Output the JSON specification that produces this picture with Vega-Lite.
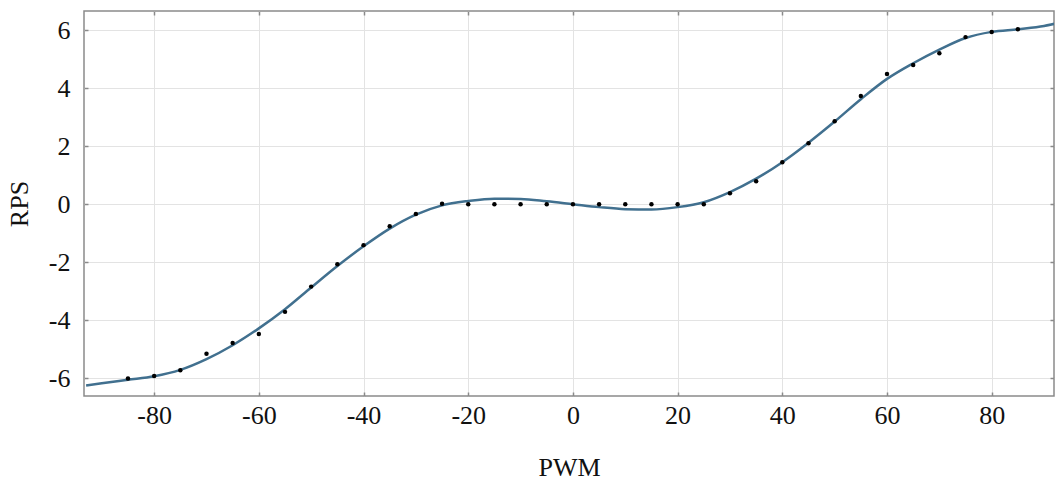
{
  "$schema": "https://vega.github.io/schema/vega-lite/v6.json",
  "width": 970,
  "height": 385,
  "autosize": {"type": "none"},
  "padding": {"left": 84, "top": 11, "right": 1, "bottom": 86},
  "background": "white",
  "config": {
    "view": {"stroke": "#8a8a8a", "strokeWidth": 1.5},
    "font": "Liberation Serif",
    "axis": {
      "labelFont": "Liberation Serif",
      "titleFont": "Liberation Serif",
      "labelFontSize": 26,
      "titleFontSize": 26,
      "titleFontWeight": "normal",
      "labelColor": "#111",
      "titleColor": "#111",
      "gridColor": "#e3e3e3",
      "gridWidth": 1,
      "domain": false,
      "tickColor": "#8a8a8a",
      "tickWidth": 1.5
    }
  },
  "datasets": {
    "fit": [
      {"pwm": -93, "rps": -6.25},
      {"pwm": -90, "rps": -6.17},
      {"pwm": -85, "rps": -6.05},
      {"pwm": -80, "rps": -5.93},
      {"pwm": -75, "rps": -5.71},
      {"pwm": -70, "rps": -5.34},
      {"pwm": -65, "rps": -4.86},
      {"pwm": -60, "rps": -4.28},
      {"pwm": -55, "rps": -3.62},
      {"pwm": -50, "rps": -2.87},
      {"pwm": -45, "rps": -2.13},
      {"pwm": -40, "rps": -1.45},
      {"pwm": -35, "rps": -0.84},
      {"pwm": -30, "rps": -0.36},
      {"pwm": -25, "rps": -0.04},
      {"pwm": -20, "rps": 0.11},
      {"pwm": -15, "rps": 0.19},
      {"pwm": -10, "rps": 0.18},
      {"pwm": -5, "rps": 0.1},
      {"pwm": 0, "rps": 0.0},
      {"pwm": 5, "rps": -0.1},
      {"pwm": 10, "rps": -0.17},
      {"pwm": 15, "rps": -0.18},
      {"pwm": 20, "rps": -0.1},
      {"pwm": 25, "rps": 0.07},
      {"pwm": 30, "rps": 0.42},
      {"pwm": 35, "rps": 0.88},
      {"pwm": 40, "rps": 1.45},
      {"pwm": 45, "rps": 2.12},
      {"pwm": 50, "rps": 2.85},
      {"pwm": 55, "rps": 3.62},
      {"pwm": 60, "rps": 4.32},
      {"pwm": 65, "rps": 4.86},
      {"pwm": 70, "rps": 5.33},
      {"pwm": 75, "rps": 5.73},
      {"pwm": 80, "rps": 5.94},
      {"pwm": 85, "rps": 6.03},
      {"pwm": 90, "rps": 6.14},
      {"pwm": 92, "rps": 6.22}
    ],
    "meas": [
      {"pwm": -85, "rps": -6.01},
      {"pwm": -80, "rps": -5.92},
      {"pwm": -75, "rps": -5.72},
      {"pwm": -70, "rps": -5.15},
      {"pwm": -65, "rps": -4.78},
      {"pwm": -60, "rps": -4.47},
      {"pwm": -55, "rps": -3.71},
      {"pwm": -50, "rps": -2.84},
      {"pwm": -45, "rps": -2.07},
      {"pwm": -40, "rps": -1.41},
      {"pwm": -35, "rps": -0.76},
      {"pwm": -30, "rps": -0.34},
      {"pwm": -25, "rps": 0.02},
      {"pwm": -20, "rps": 0.0},
      {"pwm": -15, "rps": 0.0},
      {"pwm": -10, "rps": 0.0},
      {"pwm": -5, "rps": 0.0},
      {"pwm": 0, "rps": 0.0},
      {"pwm": 5, "rps": 0.0},
      {"pwm": 10, "rps": 0.0},
      {"pwm": 15, "rps": 0.0},
      {"pwm": 20, "rps": 0.0},
      {"pwm": 25, "rps": 0.0},
      {"pwm": 30, "rps": 0.38},
      {"pwm": 35, "rps": 0.79},
      {"pwm": 40, "rps": 1.45},
      {"pwm": 45, "rps": 2.1},
      {"pwm": 50, "rps": 2.86},
      {"pwm": 55, "rps": 3.73},
      {"pwm": 60, "rps": 4.49},
      {"pwm": 65, "rps": 4.8},
      {"pwm": 70, "rps": 5.2},
      {"pwm": 75, "rps": 5.76},
      {"pwm": 80, "rps": 5.94},
      {"pwm": 85, "rps": 6.03}
    ]
  },
  "layer": [
    {
      "data": {"name": "fit"},
      "mark": {"type": "line", "interpolate": "monotone", "color": "#41708f", "strokeWidth": 2.5, "clip": true},
      "encoding": {
        "x": {
          "field": "pwm", "type": "quantitative",
          "scale": {"domain": [-93.4, 91.9], "nice": false, "zero": false},
          "axis": {"title": "PWM", "values": [-80, -60, -40, -20, 0, 20, 40, 60, 80], "labelExpr": "'' + datum.value", "tickSize": -4, "labelPadding": 10, "titlePadding": 26, "labelFlush": false}
        },
        "y": {
          "field": "rps", "type": "quantitative",
          "scale": {"domain": [-6.61, 6.66], "nice": false, "zero": false},
          "axis": {"title": "RPS", "values": [-6, -4, -2, 0, 2, 4, 6], "labelExpr": "'' + datum.value", "tickSize": -4, "labelPadding": 18, "titlePadding": 16, "labelFlush": false}
        }
      }
    },
    {
      "data": {"name": "meas"},
      "mark": {"type": "circle", "color": "#000", "size": 20, "opacity": 1},
      "encoding": {
        "x": {"field": "pwm", "type": "quantitative", "axis": {"orient": "top", "labels": false, "grid": false, "title": null, "values": [-80, -60, -40, -20, 0, 20, 40, 60, 80], "tickSize": -4}},
        "y": {"field": "rps", "type": "quantitative", "axis": {"orient": "right", "labels": false, "grid": false, "title": null, "values": [-6, -4, -2, 0, 2, 4, 6], "tickSize": -4}}
      }
    }
  ],
  "resolve": {"axis": {"x": "independent", "y": "independent"}}
}
